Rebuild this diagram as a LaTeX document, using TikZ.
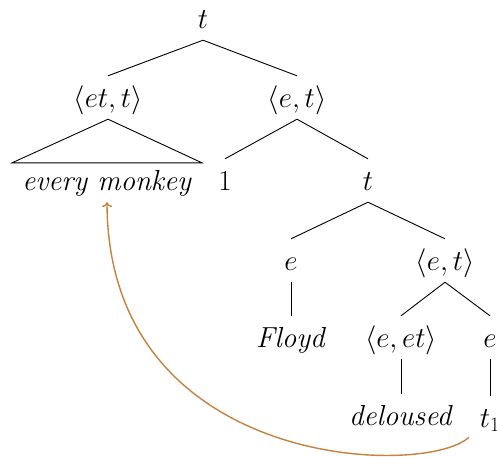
\RequirePackage{fix-cm}
\documentclass[tikz,border=0pt]{standalone}
\usetikzlibrary{arrows.meta}
\definecolor{arrowcol}{RGB}{196,130,62}
\begin{document}
\begin{tikzpicture}[x=1pt,y=-1pt,
  lbl/.style={inner xsep=0pt, inner ysep=4pt, text height=27pt, text depth=8pt, anchor=base, font=\fontsize{29}{34}\selectfont},
  edge/.style={line width=0.9pt},
  move/.style={draw=arrowcol, line width=1.4pt, -{To[length=5pt,width=10pt]}}]
\useasboundingbox (0,0) rectangle (497,456);
\clip (0,0) rectangle (497,456);
\node[lbl] (r) at (203,28) {$t$};
\node[lbl] (a) at (108,107) {$\langle et,t\rangle$};
\node[lbl] (b) at (297,107) {$\langle e,t\rangle$};
\node[lbl] (em) at (107,190) {\textit{every monkey}};
\node[lbl] (one) at (225,190) {1};
\node[lbl] (c) at (368,190) {$t$};
\node[lbl] (d) at (291,270) {$e$};
\node[lbl] (f) at (445,270) {$\langle e,t\rangle$};
\node[lbl] (floyd) at (291,347) {\textit{Floyd}};
\node[lbl] (g) at (401,347) {$\langle e,et\rangle$};
\node[lbl] (h) at (490,347) {$e$};
\node[lbl] (del) at (401,425) {\textit{deloused}};
\node[lbl] (t1) at (490,427) {$t_1$};
\draw[edge] (r.south) -- (a.north);
\draw[edge] (r.south) -- (b.north);
\draw[edge] (a.south) -- ([xshift=-10pt,yshift=-4pt]em.north west) -- ([xshift=10pt,yshift=-4pt]em.north east) -- cycle;
\draw[edge] (b.south) -- (one.north);
\draw[edge] (b.south) -- (c.north);
\draw[edge] (c.south) -- (d.north);
\draw[edge] (c.south) -- (f.north);
\draw[edge] (d.south) -- (floyd.north);
\draw[edge] (f.south) -- (g.north);
\draw[edge] (f.south) -- (h.north);
\draw[edge] (g.south) -- (del.north);
\draw[edge] (h.south) -- (t1.north);
\draw[move] ([xshift=-21pt,yshift=2pt]t1.south) .. controls (425,478) and (108,470) .. (em.south);
\end{tikzpicture}
\end{document}
